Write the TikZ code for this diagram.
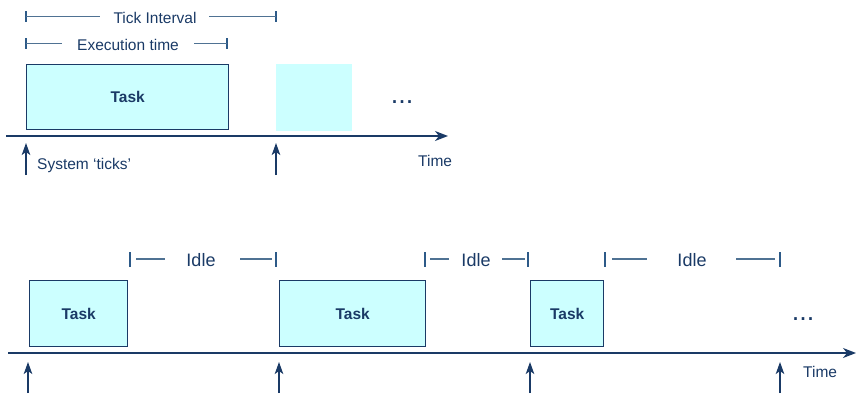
\documentclass[tikz,border=0pt]{standalone}
\usepackage{fontspec}
\setmainfont{Liberation Sans}
\usetikzlibrary{arrows.meta}

\definecolor{navy}{HTML}{1A3A66}
\definecolor{barblue}{HTML}{2D5A88}
\definecolor{spanline}{HTML}{4F7293}
\definecolor{taskfill}{HTML}{CCFFFF}

\tikzset{
  lbl/.style={text=navy, inner sep=0pt, font=\fontsize{15.5}{18}\selectfont},
  idlelbl/.style={text=navy, inner sep=0pt, font=\fontsize{18}{21}\selectfont},
  tasklbl/.style={text=navy, font=\fontsize{15.5}{18}\selectfont\bfseries},
  taskbox/.style={draw=navy, line width=1.3pt, fill=taskfill, inner sep=0pt, anchor=north west, tasklbl},
  ghostbox/.style={fill=taskfill, inner sep=0pt, anchor=north west},
  dotslbl/.style={text=navy, inner sep=0pt, font=\fontsize{27}{30}\selectfont},
  spanbar/.style={draw=barblue, line width=1.5pt},
  spanseg/.style={draw=spanline, line width=1.6pt},
  timeaxis/.style={draw=navy, line width=1.5pt, -{Stealth[length=13pt,width=10pt,inset=4pt]}},
  tickarrow/.style={draw=navy, line width=1.5pt, -{Stealth[length=12pt,width=8.5pt,inset=3pt]}},
}

\begin{document}
\begin{tikzpicture}[x=1pt,y=-1pt]
\useasboundingbox (0,0) rectangle (856,394);

% ---------- upper timeline ----------
% span markers
\draw[spanbar] (26,11) -- (26,22);
\draw[spanbar] (276,11) -- (276,22);
\draw[spanseg] (26,16.5) -- (100,16.5);
\draw[spanseg] (209,16.5) -- (276,16.5);
\node[lbl, anchor=base] (ti) at (155,23) {Tick Interval};

\draw[spanbar] (26,38) -- (26,49);
\draw[spanbar] (227,38) -- (227,49);
\draw[spanseg] (26,43.5) -- (62,43.5);
\draw[spanseg] (194,43.5) -- (227,43.5);
\node[lbl, anchor=base] (et) at (128,50) {Execution time};

% tasks
\node[taskbox, minimum width=202pt, minimum height=65pt] (ta) at (26,64) {Task};
\node[ghostbox, minimum width=76pt, minimum height=67pt] (tb) at (276,64) {};
\node[dotslbl, anchor=base] (da) at (402,103) {...};

% axis and ticks
\coordinate (a0) at (6,136);
\coordinate (a1) at (448,136);
\draw[timeaxis] (a0) -- (a1);
\node[lbl, anchor=base west] (timea) at (418,166) {Time};

\coordinate (k0) at (26,175);
\coordinate (k0t) at (26,143);
\coordinate (k1) at (276,175);
\coordinate (k1t) at (276,143);
\draw[tickarrow] (k0) -- (k0t);
\draw[tickarrow] (k1) -- (k1t);
\node[lbl, anchor=base west] (sys) at (37,169) {System ‘ticks’};

% ---------- lower timeline ----------
% idle spans
\draw[spanbar] (130,252) -- (130,267);
\draw[spanbar] (276,252) -- (276,267);
\draw[spanseg] (136,259) -- (165,259);
\draw[spanseg] (240,259) -- (272,259);
\node[idlelbl, anchor=base] (i1) at (201,266) {Idle};

\draw[spanbar] (425,252) -- (425,267);
\draw[spanbar] (528,252) -- (528,267);
\draw[spanseg] (430,259) -- (449,259);
\draw[spanseg] (502,259) -- (525,259);
\node[idlelbl, anchor=base] (i2) at (476,266) {Idle};

\draw[spanbar] (605,252) -- (605,267);
\draw[spanbar] (780,252) -- (780,267);
\draw[spanseg] (612,259) -- (647,259);
\draw[spanseg] (736,259) -- (775,259);
\node[idlelbl, anchor=base] (i3) at (692,266) {Idle};

% tasks
\node[taskbox, minimum width=98pt, minimum height=66pt] (tc) at (29,280) {Task};
\node[taskbox, minimum width=146pt, minimum height=66pt] (td) at (279,280) {Task};
\node[taskbox, minimum width=73pt, minimum height=66pt] (te) at (530,280) {Task};
\node[dotslbl, anchor=base] (db) at (803,320) {...};

% axis and ticks
\coordinate (b0) at (8,353);
\coordinate (b1) at (856,353);
\draw[timeaxis] (b0) -- (b1);
\node[lbl, anchor=base west] (timeb) at (803,377) {Time};

\foreach \x [count=\i] in {28,279,530,780} {
  \coordinate (m\i) at (\x,393);
  \coordinate (m\i t) at (\x,362);
  \draw[tickarrow] (m\i) -- (m\i t);
}
\end{tikzpicture}
\end{document}
